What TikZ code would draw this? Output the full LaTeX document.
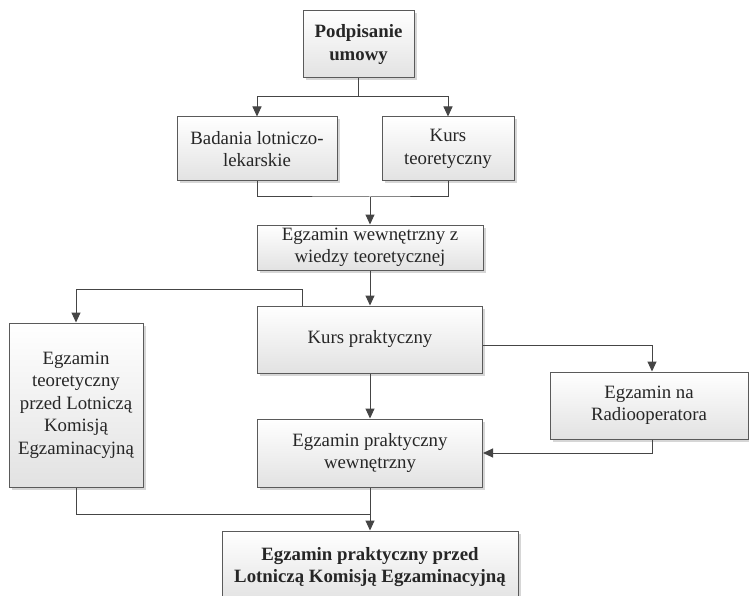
\documentclass[tikz,border=0pt]{standalone}
\usepackage{fontspec}
\setmainfont{Liberation Serif}
\usetikzlibrary{arrows.meta,shadows}
\definecolor{boxline}{HTML}{5A5A5A}
\definecolor{linecol}{HTML}{454545}
\definecolor{boxbot}{HTML}{E2E2E2}
\definecolor{txtcol}{HTML}{262626}
\begin{document}
\begin{tikzpicture}[x=1pt,y=-1pt,
  box/.style={draw=boxline, line width=1pt, top color=white, bottom color=boxbot,
    align=center, text=txtcol, font=\fontsize{18.8}{22.5}\selectfont, inner sep=0pt,
    drop shadow={shadow xshift=2.5pt, shadow yshift=-2.5pt, fill=black!35, opacity=0.45}},
  conn/.style={draw=linecol, line width=1pt},
  arr/.style={conn, -{Triangle[length=10pt,width=9pt]}}]
\useasboundingbox (0,0) rectangle (749,596);
\fill[white] (0,0) rectangle (749,596);

\node[box, minimum width=111pt, minimum height=67pt] (p1) at (358.5,44.5) {\textbf{Podpisanie}\\\textbf{umowy}};
\node[box, minimum width=160pt, minimum height=64pt] (b1) at (257,149) {Badania lotniczo-\\lekarskie};
\node[box, minimum width=132pt, minimum height=64pt] (k1) at (448,149) {Kurs\\teoretyczny};
\node[box, minimum width=226pt, minimum height=45pt] (e1) at (370,247.5) {Egzamin wewnętrzny z\\wiedzy teoretycznej};
\node[box, minimum width=225pt, minimum height=67pt] (kp) at (370,339.5) {Kurs praktyczny};
\node[box, minimum width=134pt, minimum height=164pt] (et) at (76,405) {Egzamin\\teoretyczny\\przed Lotniczą\\Komisją\\Egzaminacyjną};
\node[box, minimum width=198pt, minimum height=67pt] (r) at (649,405.5) {Egzamin na\\Radiooperatora};
\node[box, minimum width=225pt, minimum height=68pt] (ep) at (370,453) {Egzamin praktyczny\\wewnętrzny};
\node[box, minimum width=296pt, minimum height=72pt] (f) at (370,567) {\textbf{Egzamin praktyczny przed}\\\textbf{Lotniczą Komisją Egzaminacyjną}};

\draw[arr] (p1.south) -- ++(0,18) -| (b1.north);
\draw[arr] (p1.south) -- ++(0,18) -| (k1.north);
\coordinate (j1) at (370,197);
\draw[conn] (b1.south) |- (j1) -| (k1.south);
\draw[arr] (j1) -- (e1.north);
\draw[arr] (e1.south) -- (kp.north);
\draw[arr] ([xshift=45pt]kp.north west) -- ++(0,-16) -| (et.north);
\draw[arr] ([yshift=-5.5pt]kp.east) -| ([xshift=3pt]r.north);
\draw[arr] (kp.south) -- (ep.north);
\draw[arr] ([xshift=3pt]r.south) |- (ep.east);
\coordinate (j2) at (370,514);
\draw[conn] (et.south) |- (j2);
\draw[arr] (ep.south) -- (f.north);
\end{tikzpicture}
\end{document}
